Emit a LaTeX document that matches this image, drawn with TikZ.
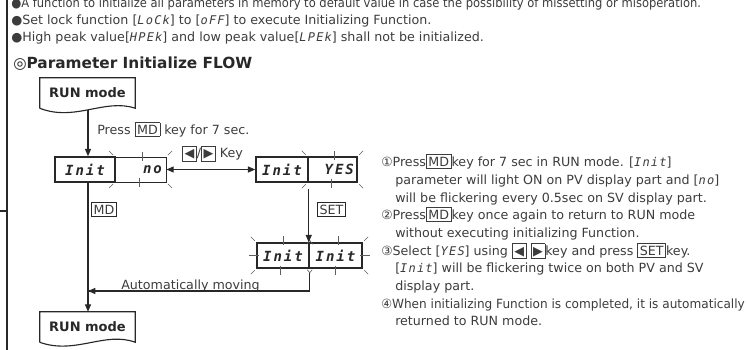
\documentclass[tikz,border=0pt]{standalone}
\usepackage{fontspec}
\setmainfont{DejaVu Sans}
\newfontfamily\dispfont[LetterSpace=14]{DejaVu Sans Mono}
\newfontfamily\segfont[LetterSpace=10]{DejaVu Sans Mono}
\usetikzlibrary{arrows.meta}
\definecolor{ink}{RGB}{40,40,40}
\definecolor{txt}{RGB}{60,60,60}
\newcommand\sg[1]{{\segfont\itshape\small #1}}
\newcommand\keycap[1]{{\fboxsep=1.3pt\fboxrule=0.55pt\fbox{\vphantom{MD}#1}}}
\newcommand\flk[1]{%
  \draw[fl] ([shift={(-1.5,-1.5)}]#1.north west) -- ++(-4,-4);
  \draw[fl] ([shift={(1.5,-1.5)}]#1.north east) -- ++(4,-4);
  \draw[fl] ([shift={(-1.5,1.5)}]#1.south west) -- ++(-4,4);
  \draw[fl] ([shift={(1.5,1.5)}]#1.south east) -- ++(4,4);
  \draw[fl] ([shift={(2,-5)}]#1.north) -- ++(0,9);
  \draw[fl] ([shift={(-1,-4)}]#1.south) -- ++(0,9);}
\begin{document}
\begin{tikzpicture}[x=0.75pt,y=-0.75pt,
  body/.style={anchor=base west, inner sep=0pt, text=txt, font={\fontsize{9.5pt}{11pt}\selectfont}},
  line/.style={draw=ink, line width=0.85pt},
  arr/.style={line, -{Triangle[length=5.5pt,width=4.5pt]}},
  darr/.style={line, {Triangle[length=5.5pt,width=4.5pt]}-{Triangle[length=5.5pt,width=4.5pt]}},
  fl/.style={draw=ink!75, line width=0.45pt},
  disp/.style={draw=ink, line width=1.1pt, minimum height=18.75pt, inner sep=0pt,
    font={\dispfont\bfseries\itshape\fontsize{10.5pt}{12pt}\selectfont}, text=ink},
  runbox/.style={inner sep=0pt, minimum width=71.25pt, minimum height=22.5pt,
    font={\bfseries\fontsize{9.75pt}{11pt}\selectfont}, text=ink},
  key/.style={draw=ink, line width=0.55pt, inner xsep=1.4pt, inner ysep=1.7pt, text=txt,
    font={\fontsize{9.5pt}{11pt}\selectfont}}]
\useasboundingbox (0,0) rectangle (747,350);
% left rule
\draw[ink, line width=1.5pt] (7,-2) -- (7,352);
\draw[ink, line width=1.5pt] (-2,211) -- (7,211);
% top text
\node[body] (l1) at (11,7) {\scalebox{0.91}[1]{●A function to initialize all parameters in memory to default value in case the possibility of missetting or misoperation.}};
\node[body] (l2) at (11,24.5) {●Set lock function [\sg{LoCk}] to [\sg{oFF}] to execute Initializing Function.};
\node[body] (l3) at (11,41) {●High peak value[\sg{HPEk}] and low peak value[\sg{LPEk}] shall not be initialized.};
\node[anchor=base west, inner sep=0pt, text=ink, font={\bfseries\fontsize{11.5pt}{13pt}\selectfont}] (hd) at (13,68) {{\mdseries ◎}Parameter Initialize FLOW};
% RUN mode boxes
\node[runbox] (run1) at (87.5,93) {RUN mode};
\draw[line] (run1.south west) -- (run1.north west) -- (run1.north east) -- (run1.south east)
  .. controls (105,98) and (75,122) .. (run1.south west);
\node[runbox] (run2) at (87.5,327) {RUN mode};
\draw[line] (run2.south west) -- (run2.north west) -- (run2.north east) -- (run2.south east)
  .. controls (105,331) and (75,355) .. (run2.south west);
% display boxes
\node[disp, minimum width=45pt] (i1a) at (85,169.5) {Init};
\node[disp, line width=0.6pt, minimum width=38.25pt, text width=32pt, align=right] (i1b) at (140.5,169.5) {no};
\node[disp, minimum width=39pt] (i2a) at (282,169.5) {Init};
\node[disp, minimum width=36.75pt, text width=32pt, align=right] (i2b) at (332.5,169.5) {YES};
\node[disp, minimum width=39pt] (i3a) at (283,255.5) {Init};
\node[disp, minimum width=39.75pt] (i3b) at (335.5,255.5) {Init};
\flk{i1b}
\flk{i2b}
% flicker marks of the final display
\draw[fl] ([shift={(-1.5,-1.5)}]i3a.north west) -- ++(-4,-4);
\draw[fl] ([shift={(-1.5,1.5)}]i3a.south west) -- ++(-4,4);
\draw[fl] ([shift={(1.5,-1.5)}]i3b.north east) -- ++(4,-4);
\draw[fl] ([shift={(1.5,1.5)}]i3b.south east) -- ++(4,4);
\draw[fl] ([shift={(-7,0)}]i3a.west) -- ++(10,0);
\draw[fl] ([shift={(-3,0)}]i3b.east) -- ++(10,0);
\draw[fl] ([shift={(0,-6)}]i3a.north) -- ++(0,9);
\draw[fl] ([shift={(-3,-3)}]i3a.south) -- ++(0,9);
\draw[fl] ([shift={(3,-6)}]i3b.north) -- ++(0,9);
\draw[fl] ([shift={(0,-3)}]i3b.south) -- ++(0,9);
\draw[fl] ([shift={(-3,2)}]i3a.north east) -- ++(3,-4) -- ++(3,4);
\draw[fl] ([shift={(-2.5,1)}]i3a.south east) -- ++(2.5,3) -- ++(2.5,-3);
% keys and labels
\node[body] (lp) at (97,134) {Press \keycap{MD} key for 7 sec.};
\node[body] (lk) at (182,157.5) {\keycap{◀}/\keycap{▶} Key};
\node[key] (kmd) at (104,209.5) {MD};
\node[key] (kset) at (331.5,209.5) {SET};
\node[body, anchor=base] (la) at (190.5,289) {Automatically moving};
% connectors
\coordinate (r1b) at (88,110);
\coordinate (join) at (88,291);
\draw[arr] (r1b) -- (r1b |- i1a.north);
\draw[arr] (r1b |- i1a.south) -- (r1b |- run2.north);
\draw[darr] (i1b.east) -- (i2a.west);
\draw[arr, shorten <=5pt] (i2a.south east) -- (i2a.south east |- i3a.north);
\draw[line, shorten <=3pt] (i3a.south east) |- (join);
\draw[arr] (i3a.south east |- join) -- (join);
% right text
\node[body] (r1) at (381,166) {①Press\keycap{MD}key for 7 sec in RUN mode. [\sg{Init}]};
\node[body] (r2) at (395,184) {parameter will light ON on PV display part and [\sg{no}]};
\node[body] (r3) at (395,202) {will be flickering every 0.5sec on SV display part.};
\node[body] (r4) at (381,219) {②Press\keycap{MD}key once again to return to RUN mode};
\node[body] (r5) at (395,237) {without executing initializing Function.};
\node[body] (r6) at (381,255) {③Select [\sg{YES}] using \keycap{◀} \keycap{▶}key and press \keycap{SET}key.};
\node[body] (r7) at (395,272) {[\sg{Init}] will be flickering twice on both PV and SV};
\node[body] (r8) at (395,290) {display part.};
\node[body] (r9) at (381,308) {\scalebox{0.955}[1]{④When initializing Function is completed, it is automatically}};
\node[body] (r10) at (395,325) {returned to RUN mode.};
\end{tikzpicture}
\end{document}
